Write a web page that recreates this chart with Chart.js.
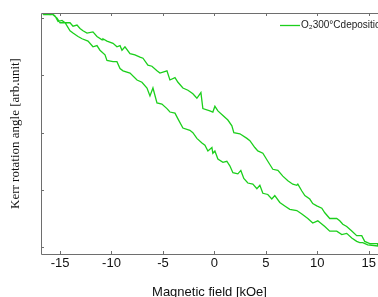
<!DOCTYPE html>
<html>
<head>
<meta charset="utf-8">
<script src="https://cdn.jsdelivr.net/npm/chart.js@4/dist/chart.umd.min.js"></script>
<style>
  html, body { margin: 0; padding: 0; background: #fff; }
  #wrap { width: 378px; height: 297px; position: relative; }
</style>
</head>
<body>
<div id="wrap"><canvas id="kerrChart"></canvas></div>
<script>
// ---------- DATA ----------
const seriesLabel = 'O\u2082300\u00b0Cdeposition';

// upper branch, left to right
const upperField = [-16.75, -16.26, -15.97, -15.78, -15.49, -15.19, -14.81, -14.51, -14.03, -13.74,
  -13.35, -13.06, -12.77, -12.38, -11.80, -11.41, -10.92, -10.83, -10.44, -9.85,
  -9.47, -9.17, -8.98, -8.69, -8.20, -7.72, -7.23, -6.94, -6.46, -6.07,
  -5.58, -5.29, -4.61, -4.32, -3.83, -3.54, -3.06, -2.57, -2.09, -1.70,
  -1.31, -1.12, -0.44, -0.15, 0.05, 0.34, 0.83, 1.31, 1.70, 1.89,
  2.48, 3.16, 3.45, 3.93, 4.22, 4.71, 5.19, 5.68, 6.17, 6.65,
  7.14, 7.62, 8.01, 8.11, 8.50, 8.79, 9.27, 9.56, 9.95, 10.44,
  10.73, 11.21, 11.89, 12.18, 12.48, 12.86, 13.35, 13.83, 14.32, 14.61,
  15.10, 15.87];
const upperKerr = [1.04, 1.04, 1.03, 1.04, 1.02, 0.97, 0.98, 0.96, 0.96, 0.93,
  0.94, 0.91, 0.89, 0.87, 0.88, 0.84, 0.81, 0.82, 0.80, 0.78,
  0.75, 0.76, 0.72, 0.75, 0.69, 0.68, 0.66, 0.65, 0.59, 0.58,
  0.54, 0.52, 0.54, 0.46, 0.48, 0.44, 0.39, 0.37, 0.34, 0.30,
  0.35, 0.21, 0.19, 0.18, 0.23, 0.19, 0.15, 0.11, 0.06, 0.00,
  -0.01, -0.05, -0.07, -0.13, -0.16, -0.18, -0.25, -0.32, -0.33, -0.38,
  -0.42, -0.45, -0.46, -0.45, -0.51, -0.55, -0.58, -0.62, -0.64, -0.66,
  -0.70, -0.75, -0.75, -0.77, -0.80, -0.82, -0.86, -0.90, -0.90, -0.95,
  -0.97, -0.97];

// lower branch, left to right
const lowerField = [-16.65, -15.68, -15.29, -15.00, -14.51, -14.03, -13.74, -13.25, -12.86, -12.28,
  -11.80, -11.41, -11.12, -10.63, -10.44, -9.85, -9.47, -9.17, -8.88, -8.20,
  -7.52, -7.04, -6.55, -6.26, -5.97, -5.58, -5.10, -4.61, -4.32, -3.83,
  -3.54, -3.06, -2.38, -2.09, -1.70, -1.21, -0.92, -0.63, -0.24, -0.15,
  0.05, 0.34, 0.83, 1.21, 1.50, 1.80, 2.28, 2.57, 2.86, 3.25,
  3.74, 4.13, 4.42, 4.71, 5.19, 5.58, 5.87, 6.36, 6.84, 7.33,
  8.01, 8.50, 9.08, 9.56, 10.05, 10.73, 11.21, 11.89, 12.38, 12.86,
  13.35, 13.83, 14.13, 14.42, 14.90, 15.87];
const lowerKerr = [1.03, 1.03, 1.00, 0.96, 0.96, 0.89, 0.87, 0.84, 0.82, 0.80,
  0.75, 0.76, 0.72, 0.68, 0.63, 0.62, 0.62, 0.56, 0.54, 0.52,
  0.46, 0.44, 0.39, 0.32, 0.39, 0.26, 0.25, 0.21, 0.18, 0.17,
  0.12, 0.04, 0.02, 0.00, -0.05, -0.09, -0.11, -0.16, -0.13, -0.18,
  -0.16, -0.23, -0.26, -0.25, -0.29, -0.35, -0.36, -0.33, -0.40, -0.44,
  -0.45, -0.49, -0.46, -0.53, -0.54, -0.58, -0.55, -0.61, -0.64, -0.67,
  -0.68, -0.71, -0.75, -0.79, -0.77, -0.82, -0.86, -0.86, -0.89, -0.88,
  -0.92, -0.95, -0.96, -0.96, -0.98, -0.99];

const xTicks = [-15, -10, -5, 0, 5, 10, 15];
const xTickLabels = ['-15', '-10', '-5', '0', '5', '10', '15'];
const yTicks = [-1, -0.5, 0, 0.5, 1];

// ---------- BUILD LOOP (one closed curve) ----------
const loopPoints = [];
upperField.forEach((x, i) => loopPoints.push({ x: x, y: upperKerr[i] }));
for (let i = lowerField.length - 1; i >= 0; i--) {
    loopPoints.push({ x: lowerField[i], y: lowerKerr[i] });
}

const axisColor = '#6e6e6e';
const lineColor = '#1ccf1c';

// frame, inward ticks and legend
const framePlugin = {
    id: 'frame',
    afterDraw(chart) {
        const ctx = chart.ctx;
        const a = chart.chartArea;
        const xs = chart.scales.x;
        const ys = chart.scales.y;
        ctx.save();
        ctx.strokeStyle = axisColor;
        ctx.lineWidth = 1;
        ctx.beginPath();
        ctx.moveTo(a.left + 0.5, a.top + 0.5);
        ctx.lineTo(a.left + 0.5, a.bottom + 0.5);
        ctx.lineTo(a.right, a.bottom + 0.5);
        ctx.moveTo(a.left + 0.5, a.top + 0.5);
        ctx.lineTo(a.right, a.top + 0.5);
        xTicks.forEach(v => {
            const px = Math.round(xs.getPixelForValue(v)) + 0.5;
            ctx.moveTo(px, a.bottom);
            ctx.lineTo(px, a.bottom - 3);
            ctx.moveTo(px, a.top);
            ctx.lineTo(px, a.top + 3);
        });
        yTicks.forEach(v => {
            const py = Math.round(ys.getPixelForValue(v)) + 0.5;
            ctx.moveTo(a.left, py);
            ctx.lineTo(a.left + 3, py);
        });
        ctx.stroke();

        // legend
        ctx.strokeStyle = lineColor;
        ctx.lineWidth = 1.3;
        ctx.beginPath();
        ctx.moveTo(280, 25.5);
        ctx.lineTo(300, 25.5);
        ctx.stroke();
        ctx.fillStyle = '#222';
        ctx.font = '10px "Liberation Sans", Arial, sans-serif';
        ctx.textBaseline = 'middle';
        ctx.fillText(seriesLabel, 301, 25);
        ctx.restore();
    }
};

new Chart(document.getElementById('kerrChart'), {
    type: 'scatter',
    data: {
        datasets: [{
            label: seriesLabel,
            data: loopPoints,
            showLine: true,
            borderColor: lineColor,
            borderWidth: 1.3,
            pointRadius: 0,
            fill: false,
            tension: 0
        }]
    },
    options: {
        responsive: true,
        maintainAspectRatio: false,
        animation: false,
        layout: { padding: { top: 13, right: 0, left: 0, bottom: 0 } },
        plugins: {
            legend: { display: false },
            tooltip: { enabled: false }
        },
        scales: {
            x: {
                type: 'linear',
                min: -16.85,
                max: 15.9,
                afterBuildTicks: s => { s.ticks = xTicks.map(v => ({ value: v })); },
                afterFit: s => { s.height = 43; },
                grid: { display: false, drawTicks: false },
                border: { display: false },
                ticks: {
                    padding: 2,
                    color: '#111',
                    font: { family: '"Liberation Sans", Arial, sans-serif', size: 13 },
                    callback: (v) => xTickLabels[xTicks.indexOf(v)]
                },
                title: {
                    display: true,
                    text: 'Magnetic field [kOe]',
                    color: '#111',
                    padding: { top: 0, bottom: -3 },
                    font: { family: '"Liberation Sans", Arial, sans-serif', size: 13 }
                }
            },
            y: {
                type: 'linear',
                min: -1.06,
                max: 1.045,
                afterBuildTicks: s => { s.ticks = yTicks.map(v => ({ value: v })); },
                afterFit: s => { s.width = 41; },
                grid: { display: false, drawTicks: false },
                border: { display: false },
                ticks: { display: false },
                title: {
                    display: true,
                    text: 'Kerr rotation angle [arb.unit]',
                    color: '#111',
                    padding: { top: 8, bottom: 0 },
                    font: { family: '"Liberation Serif", "Times New Roman", serif', size: 13 }
                }
            }
        }
    },
    plugins: [framePlugin]
});
</script>
</body>
</html>
